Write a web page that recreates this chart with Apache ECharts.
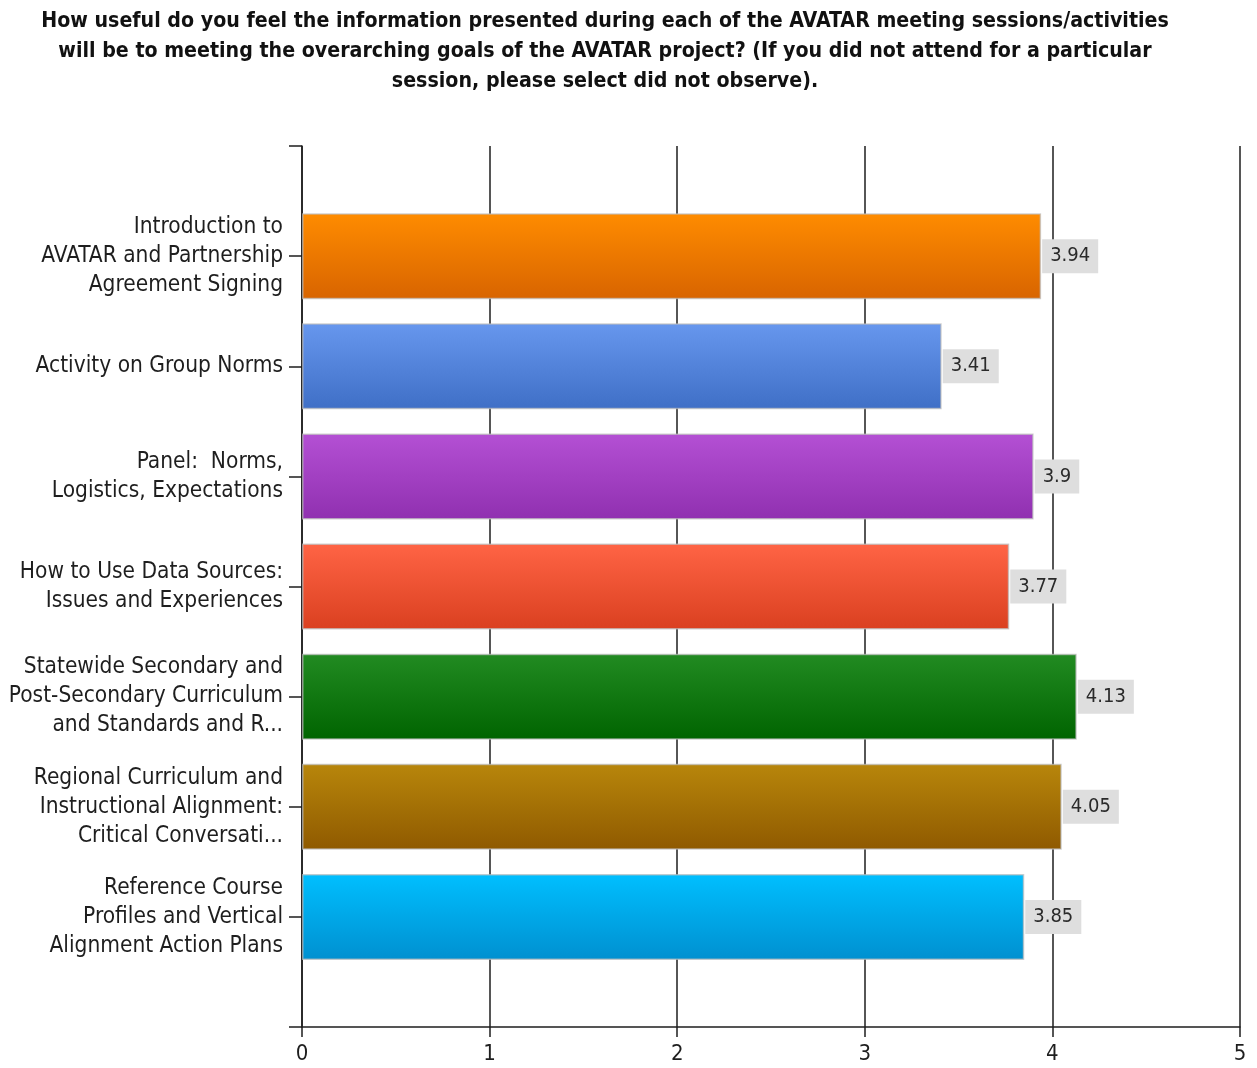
<!DOCTYPE html>
<html>
<head>
<meta charset="utf-8">
<script src="https://cdn.jsdelivr.net/npm/echarts@6/dist/echarts.min.js"></script>
<style>
  html, body { margin: 0; padding: 0; background: #fff; }
  #chart { width: 1257px; height: 1068px; }
</style>
</head>
<body>
<div id="chart"></div>
<script>
var categories = [
  'Introduction to\nAVATAR and Partnership\nAgreement Signing',
  'Activity on Group Norms',
  'Panel:  Norms,\nLogistics, Expectations',
  'How to Use Data Sources:\nIssues and Experiences',
  'Statewide Secondary and\nPost-Secondary Curriculum\nand Standards and R...',
  'Regional Curriculum and\nInstructional Alignment:\nCritical Conversati...',
  'Reference Course\nProfiles and Vertical\nAlignment Action Plans'
];
var values = [3.94, 3.41, 3.9, 3.77, 4.13, 4.05, 3.85];
var colorsTop = ['#ff8c00', '#6797ee', '#b450d4', '#ff6445', '#228b22', '#b8860b', '#00bfff'];
var colorsBottom = ['#d86400', '#3f6fc6', '#9030b0', '#da4020', '#006400', '#8f5a00', '#0090d0'];
var xMin = 0, xMax = 5, xStep = 1;

var cond = "'DejaVu Sans Condensed', 'Liberation Sans', sans-serif";
var ink = '#1e1e1e';

(function () {
  var chart = echarts.init(document.getElementById('chart'), null, { renderer: 'canvas' });

  // padded category axis: a blank slot above and below, bars sit on the ticks
  var yCats = [''].concat(categories, ['']);
  var barData = ['-'].concat(values.map(function (v, i) {
    return {
      value: v,
      itemStyle: {
        color: new echarts.graphic.LinearGradient(0, 0, 0, 1, [
          { offset: 0, color: colorsTop[i] },
          { offset: 1, color: colorsBottom[i] }
        ])
      }
    };
  }), ['-']);

  chart.setOption({
    animation: false,
    title: {
      text: 'How useful do you feel the information presented during each of the AVATAR meeting sessions/activities\nwill be to meeting the overarching goals of the AVATAR project? (If you did not attend for a particular\nsession, please select did not observe).',
      left: 605,
      top: 6,
      padding: 0,
      textAlign: 'center',
      textStyle: {
        fontFamily: cond,
        fontSize: 21.2,
        fontWeight: 'bold',
        lineHeight: 30,
        color: '#111'
      }
    },
    grid: { left: 302, right: 17, top: 146, bottom: 41, containLabel: false, outerBoundsMode: 'none' },
    xAxis: {
      type: 'value',
      min: xMin,
      max: xMax,
      interval: xStep,
      axisLine: { show: true, lineStyle: { color: ink, width: 1.5 } },
      axisTick: { show: true, length: 10, lineStyle: { color: ink, width: 1.5 } },
      axisLabel: { color: ink, fontFamily: cond, fontSize: 22, margin: 16 },
      splitLine: { show: true, lineStyle: { color: ink, width: 1.5 } }
    },
    yAxis: {
      type: 'category',
      inverse: true,
      boundaryGap: false,
      data: yCats,
      axisLine: { show: true, lineStyle: { color: ink, width: 1.5 } },
      axisTick: { show: true, length: 13, lineStyle: { color: ink, width: 1.5 } },
      axisLabel: {
        color: ink,
        fontFamily: cond,
        fontSize: 22.5,
        lineHeight: 29,
        margin: 19,
        align: 'right'
      },
      splitLine: { show: false }
    },
    series: [{
      type: 'bar',
      data: barData,
      barWidth: 86,
      itemStyle: { borderColor: 'rgba(190,190,190,0.7)', borderWidth: 1.5 },
      label: {
        show: true,
        position: 'right',
        distance: 1,
        formatter: '{c}',
        fontFamily: cond,
        fontSize: 20,
        color: '#2a2a2a',
        backgroundColor: '#dedede',
        padding: [7, 8, 7, 8]
      }
    }]
  });

  window.addEventListener('resize', function () { chart.resize(); });
})();
</script>
</body>
</html>
